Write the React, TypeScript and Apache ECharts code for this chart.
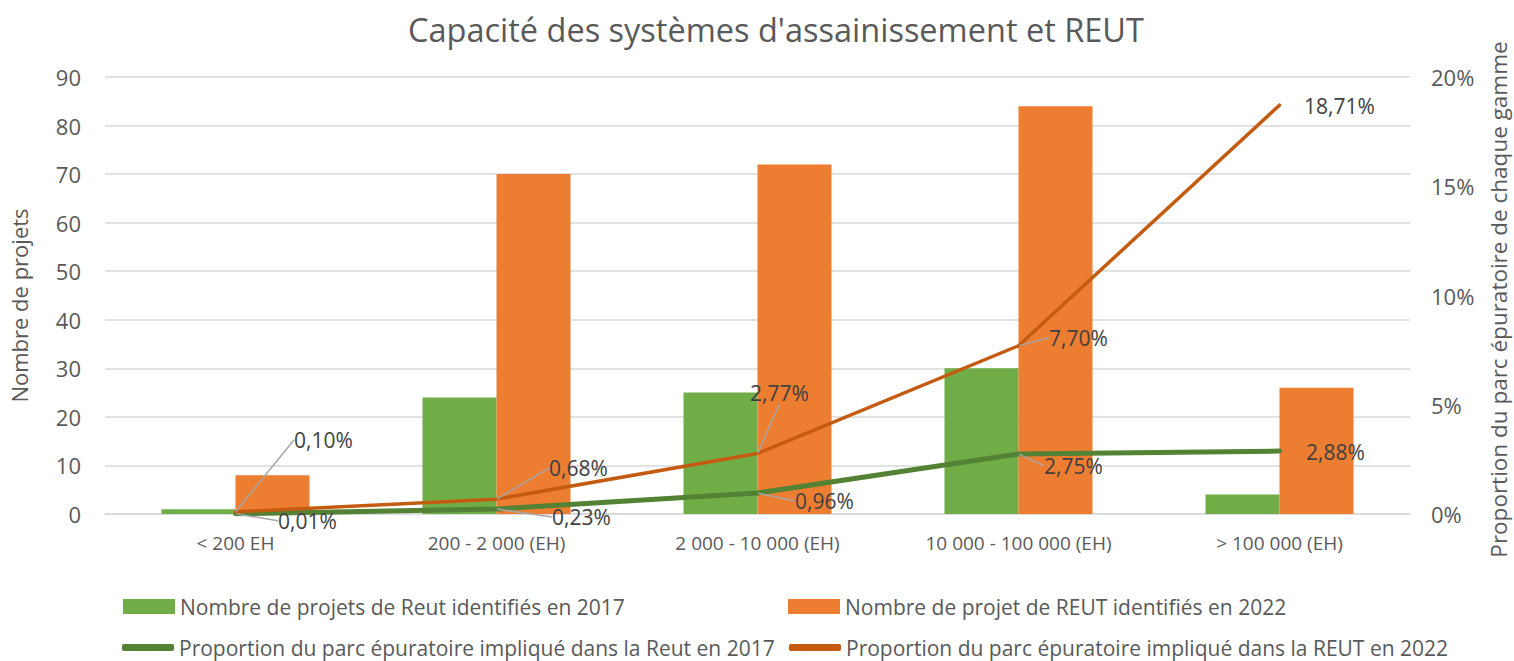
import React, { useEffect, useRef } from "react";
import * as echarts from "echarts";

const categories = ["< 200 EH", "200 - 2 000 (EH)", "2 000 - 10 000 (EH)", "10 000 - 100 000 (EH)", "> 100 000 (EH)"];
const projets2017 = [1, 24, 25, 30, 4];
const projets2022 = [8, 70, 72, 84, 26];
const proportion2017 = [0.01, 0.23, 0.96, 2.75, 2.88];
const proportion2022 = [0.1, 0.68, 2.77, 7.7, 18.71];
const leftTicks = { min: 0, max: 90, interval: 10 };
const rightTicks = { min: 0, max: 20, interval: 5 };

const names = [
  "Nombre de projets de Reut identifiés en 2017",
  "Nombre de projet de REUT identifiés en 2022",
  "Proportion du parc épuratoire impliqué dans la Reut en 2017",
  "Proportion du parc épuratoire impliqué dans la REUT en 2022",
];

// label offsets (layout only)
const offs2022 = [[88, -72], [82, -31], [22, -60], [60, -8], [60, 1]];
const offs2017 = [[72, 7], [85, 8], [67, 8], [55, 12], [56, 1]];
const guide2022 = [true, true, true, true, false];
const guide2017 = [true, true, true, true, false];

const FONT = "'Open Sans', sans-serif";
const fmtPct = (v: number) => v.toFixed(2).replace(".", ",") + "%";

export default function App() {
  const ref = useRef<HTMLDivElement>(null);
  useEffect(() => {
    if (!ref.current) return;
    const chart = echarts.init(ref.current, null, { renderer: "svg" });
    const labelStyle = {
      show: true,
      position: "inside" as const,
      fontSize: 21,
      color: "#404040",
      fontFamily: FONT,
      formatter: (p: any) => fmtPct(p.value),
    };
    const guideStyle = { lineStyle: { color: "#A6A6A6", width: 1.5 } };
    const legendBase = {
      orient: "horizontal" as const,
      textStyle: { fontSize: 21, lineHeight: 20, color: "#595959", fontFamily: FONT },
      itemWidth: 52,
      selectedMode: false,
    };
    chart.setOption({
      animation: false,
      textStyle: { fontFamily: FONT },
      title: {
        text: "Capacité des systèmes d'assainissement et REUT",
        left: 403,
        top: 8,
        textStyle: { fontSize: 32.5, fontWeight: "normal", color: "#595959", fontFamily: FONT },
      },
      grid: { left: 105, right: 104, top: 77, bottom: 147, containLabel: false, outerBoundsMode: "none" },
      legend: [
        { ...legendBase, data: [names[0]], left: 118, top: 591, icon: "rect", itemHeight: 15 },
        { ...legendBase, data: [names[1]], left: 783, top: 591, icon: "rect", itemHeight: 15 },
        { ...legendBase, data: [names[2]], left: 117, top: 632, icon: "roundRect", itemHeight: 7 },
        { ...legendBase, data: [names[3]], left: 784, top: 632, icon: "roundRect", itemHeight: 7 },
      ],
      xAxis: {
        type: "category",
        data: categories,
        axisLine: { lineStyle: { color: "#D9D9D9", width: 1.5 } },
        axisTick: { show: false },
        axisLabel: { fontSize: 19, color: "#595959", margin: 19, fontFamily: FONT },
      },
      yAxis: [
        {
          type: "value",
          ...leftTicks,
          name: "Nombre de projets",
          nameLocation: "middle",
          nameGap: 75,
          nameRotate: 90,
          nameTextStyle: { fontSize: 22, color: "#595959", fontFamily: FONT, padding: [0, 20, 0, 0] },
          axisLabel: { fontSize: 22, color: "#595959", margin: 24, fontFamily: FONT },
          splitLine: { lineStyle: { color: "#D9D9D9", width: 1.5 } },
          axisLine: { show: false },
          axisTick: { show: false },
        },
        {
          type: "value",
          ...rightTicks,
          position: "right",
          name: "Proportion du parc épuratoire de chaque gamme",
          nameLocation: "middle",
          nameGap: 77,
          nameRotate: 90,
          nameTextStyle: { fontSize: 22.5, color: "#595959", fontFamily: FONT, padding: [0, 8, 0, 0] },
          axisLabel: { fontSize: 22, color: "#595959", margin: 21, fontFamily: FONT, formatter: "{value}%" },
          splitLine: { show: false },
          axisLine: { show: false },
          axisTick: { show: false },
        },
      ],
      series: [
        {
          name: names[0],
          type: "bar",
          data: projets2017,
          barWidth: 74,
          barGap: "0%",
          itemStyle: { color: "#70AD47" },
        },
        {
          name: names[1],
          type: "bar",
          data: projets2022,
          barWidth: 74,
          barGap: "0%",
          itemStyle: { color: "#ED7D31" },
        },
        {
          name: names[2],
          type: "line",
          yAxisIndex: 1,
          data: proportion2017.map((v, i) => ({ value: v, labelLine: { show: guide2017[i] } })),
          symbol: "circle",
          symbolSize: 1,
          showSymbol: true,
          itemStyle: { color: "#548235" },
          lineStyle: { color: "#548235", width: 5, cap: "round" },
          label: labelStyle,
          labelLine: { show: true, ...guideStyle },
          labelLayout: (p: any) => ({ dx: offs2017[p.dataIndex][0], dy: offs2017[p.dataIndex][1] }),
          z: 3,
        },
        {
          name: names[3],
          type: "line",
          yAxisIndex: 1,
          data: proportion2022.map((v, i) => ({ value: v, labelLine: { show: guide2022[i] } })),
          symbol: "circle",
          symbolSize: 1,
          showSymbol: true,
          itemStyle: { color: "#C55A11" },
          lineStyle: { color: "#C55A11", width: 3.5, cap: "round" },
          label: labelStyle,
          labelLine: { show: true, ...guideStyle },
          labelLayout: (p: any) => ({ dx: offs2022[p.dataIndex][0], dy: offs2022[p.dataIndex][1] }),
          z: 4,
        },
      ],
    });
    return () => chart.dispose();
  }, []);
  return <div ref={ref} style={{ position: "fixed", left: 0, top: 0, width: 1514, height: 661, background: "#fff" }} />;
}
